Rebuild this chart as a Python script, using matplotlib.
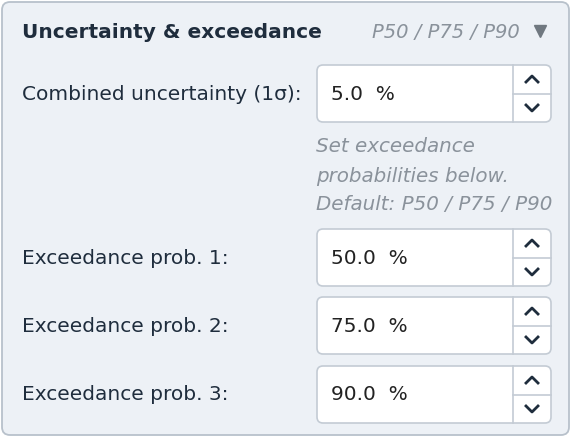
import matplotlib.pyplot as plt
from matplotlib.patches import FancyBboxPatch

# widget content
title = "Uncertainty & exceedance"
summary = "P50 / P75 / P90"
field_labels = ["Combined uncertainty (1σ):", "Exceedance prob. 1:",
                "Exceedance prob. 2:", "Exceedance prob. 3:"]
field_values = [5.0, 50.0, 75.0, 90.0]
hint_lines = ["Set exceedance", "probabilities below.", "Default: P50 / P75 / P90"]

fig = plt.figure(figsize=(5.72, 4.38), dpi=100)
ax = fig.add_axes([0, 0, 1, 1])
ax.set_xlim(0, 572)
ax.set_ylim(438, 0)
ax.axis('off')

navy = '#1f2d3d'
gray = '#8a929b'
border = '#c3cbd4'

# panel
ax.add_patch(FancyBboxPatch((2, 2), 567, 433, boxstyle="round,pad=0,rounding_size=8",
                            fc='#edf1f6', ec='#b8c1cb', lw=1.3))
ax.text(22, 32, title, fontsize=14.5, fontweight='bold', color=navy, va='center')
ax.text(520, 32, summary, fontsize=14, style='italic', color=gray, va='center', ha='right')
ax.plot([540], [31], marker='v', color='#707880', markersize=9)

def spinbox(y0, label, value):
    ax.text(22, y0 + 29, label, fontsize=14.5, color=navy, va='center')
    ax.add_patch(FancyBboxPatch((317, y0), 234, 57, boxstyle="round,pad=0,rounding_size=6",
                                fc='white', ec=border, lw=1.2))
    ax.text(331, y0 + 29, f"{value:.1f}  %", fontsize=14.5, color='#222', va='center')
    ax.plot([513, 513], [y0, y0 + 57], color=border, lw=1.2)
    ax.plot([513, 551], [y0 + 28.5, y0 + 28.5], color=border, lw=1.2)
    ax.plot([526, 532, 538], [y0 + 17, y0 + 11, y0 + 17], color=navy, lw=2)
    ax.plot([526, 532, 538], [y0 + 40, y0 + 46, y0 + 40], color=navy, lw=2)

box_tops = [65, 229, 297, 366]
for y0, lab, val in zip(box_tops, field_labels, field_values):
    spinbox(y0, lab, val)

for i, line in enumerate(hint_lines):
    ax.text(316, 147 + i * 29, line, fontsize=14.3, style='italic', color=gray, va='center')

fig.savefig('out.png', dpi=100)
